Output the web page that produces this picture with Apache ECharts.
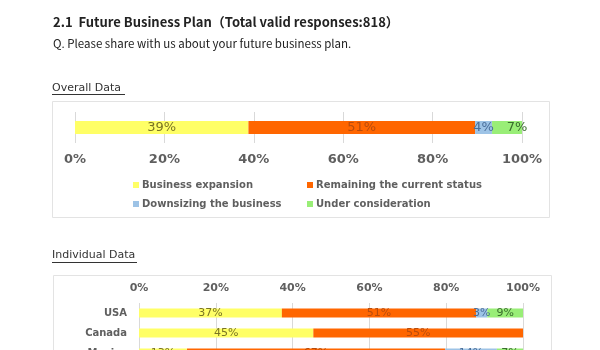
<!DOCTYPE html>
<html>
<head>
<meta charset="utf-8">
<script src="https://cdn.jsdelivr.net/npm/echarts@6/dist/echarts.min.js"></script>
<style>html,body{margin:0;padding:0;background:#fff;overflow:hidden;width:600px;height:350px}#c{width:600px;height:380px}</style>
</head>
<body>
<div id="c"></div>
<script>
// ---- data ----
const seriesNames = ['Business expansion', 'Remaining the current status', 'Downsizing the business', 'Under consideration'];
const overallCategory = ['Overall'];
const overallExpansion = [38.8];
const overallRemaining = [50.7];
const overallDownsizing = [3.8];
const overallConsideration = [6.7];

const countries = ['USA', 'Canada', 'Mexico'];
const indivExpansion = [37.2, 45.4, 12.5];
const indivRemaining = [50.6, 54.6, 67.2];
const indivDownsizing = [2.9, 0, 13.5];
const indivConsideration = [9.3, 0, 6.8];

const tickValues = [0, 20, 40, 60, 80, 100];

// ---- styles ----
const colors = ['#ffff66', '#ff6600', '#9dc3e6', '#99ee77'];
const labelColors = ['#7a7424', '#b84c0c', '#4a6e9a', '#3a6e2e'];
const grayText = '#5f5f5f';
const gridLineColor = '#d9d9d9';
const fontMain = 'DejaVu Sans';

const pct = p => (p.value > 0 ? Math.round(p.value) + '%' : '');

const overallData = [overallExpansion, overallRemaining, overallDownsizing, overallConsideration];
const indivData = [indivExpansion, indivRemaining, indivDownsizing, indivConsideration];

const series = [];
seriesNames.forEach((name, i) => {
  series.push({
    name, type: 'bar', stack: 'overall', xAxisIndex: 0, yAxisIndex: 0,
    data: overallData[i], barWidth: 13,
    itemStyle: { color: colors[i] },
    label: { show: true, position: 'inside', formatter: pct, color: labelColors[i],
      fontFamily: fontMain, fontSize: 13, offset: i === 3 ? [10, 0] : [0, 0] },
    emphasis: { disabled: true }
  });
});
seriesNames.forEach((name, i) => {
  series.push({
    name, type: 'bar', stack: 'indiv', xAxisIndex: 1, yAxisIndex: 1,
    data: indivData[i], barWidth: 9,
    itemStyle: { color: colors[i] },
    label: { show: true, position: 'inside', formatter: pct, color: labelColors[i],
      fontFamily: fontMain, fontSize: 11 },
    emphasis: { disabled: true }
  });
});

const legendPos = [[128, 175], [302, 175], [128, 194], [302, 194]];
const legends = seriesNames.map((n, i) => ({
  data: [n], left: legendPos[i][0], top: legendPos[i][1],
  icon: 'rect', itemWidth: 6, itemHeight: 6, itemGap: 0,
  selectedMode: false,
  textStyle: { color: grayText, fontFamily: fontMain, fontWeight: 'bold', fontSize: 10, padding: [0, 0, 0, -2] }
}));

const axisCommon = {
  type: 'value', min: 0, max: 100, interval: 20,
  axisLine: { show: false }, axisTick: { show: false },
  splitLine: { show: true, lineStyle: { color: gridLineColor, width: 1 } }
};

const option = {
  backgroundColor: '#fff',
  animation: false,
  legend: legends,
  grid: [
    { left: 75, width: 447, top: 112, height: 31 },
    { left: 139, width: 384, top: 303, height: 60 }
  ],
  xAxis: [
    Object.assign({}, axisCommon, { gridIndex: 0,
      axisLabel: { formatter: '{value}%', color: grayText, fontFamily: fontMain, fontWeight: 'bold', fontSize: 13, margin: 10 } }),
    Object.assign({}, axisCommon, { gridIndex: 1, position: 'top',
      axisLabel: { formatter: '{value}%', color: grayText, fontFamily: fontMain, fontWeight: 'bold', fontSize: 11, margin: 9 } })
  ],
  yAxis: [
    { type: 'category', gridIndex: 0, data: overallCategory, show: false },
    { type: 'category', gridIndex: 1, data: countries, inverse: true,
      axisLine: { show: false }, axisTick: { show: false },
      axisLabel: { color: grayText, fontFamily: fontMain, fontWeight: 'bold', fontSize: 10, margin: 12 } }
  ],
  graphic: [
    { type: 'text', left: 53, top: 16, style: { text: '2.1  Future Business Plan（Total valid responses:818）', font: 'bold 13px "Noto Sans CJK JP"', fill: '#222' } },
    { type: 'text', left: 53, top: 38, style: { text: 'Q. Please share with us about your future business plan.', font: '11.5px "Noto Sans CJK JP"', fill: '#222' } },
    { type: 'text', left: 52, top: 83, style: { text: 'Overall Data', font: '11px "DejaVu Sans"', fill: '#333' } },
    { type: 'line', shape: { x1: 52, y1: 94.5, x2: 125, y2: 94.5 }, style: { stroke: '#333', lineWidth: 1 } },
    { type: 'rect', shape: { x: 52.5, y: 101.5, width: 497, height: 116 }, style: { fill: 'none', stroke: '#e3e3e3', lineWidth: 1 } },
    { type: 'text', left: 52, top: 250, style: { text: 'Individual Data', font: '11px "DejaVu Sans"', fill: '#333' } },
    { type: 'line', shape: { x1: 52, y1: 262.5, x2: 137, y2: 262.5 }, style: { stroke: '#333', lineWidth: 1 } },
    { type: 'rect', shape: { x: 53.5, y: 275.5, width: 498, height: 110 }, style: { fill: 'none', stroke: '#e3e3e3', lineWidth: 1 } }
  ],
  series
};

const chart = echarts.init(document.getElementById('c'), null, { renderer: 'canvas' });
chart.setOption(option);
</script>
</body>
</html>
